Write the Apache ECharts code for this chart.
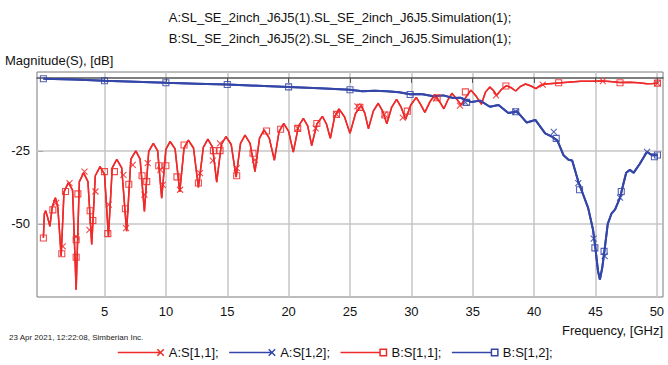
<!DOCTYPE html>
<html>
<head>
<meta charset="utf-8">
<script src="https://cdn.jsdelivr.net/npm/echarts@6/dist/echarts.min.js"></script>
<style>
  html, body { margin: 0; padding: 0; background: #fff; }
  #chart { width: 668px; height: 365px; }
</style>
</head>
<body>
<div id="chart"></div>
<script>
// S[1,1] trace (A and B overlap), frequency in GHz / magnitude in dB
const s11Freq = [0.02, 0.1, 0.2, 0.35, 0.55, 0.75, 1.0, 1.2, 1.47, 1.7, 2.06, 2.4, 2.69, 2.95, 3.3, 3.65,
  3.96, 4.25, 4.64, 5.0, 5.32, 5.63, 6.0, 6.4, 6.8, 7.15, 7.55, 7.9, 8.25, 8.6, 8.98, 9.33,
  9.66, 10.0, 10.34, 10.75, 11.13, 11.48, 11.83, 12.25, 12.65, 13.05, 13.42, 13.8, 14.14, 14.52, 14.9, 15.32,
  15.72, 16.08, 16.45, 16.86, 17.26, 17.63, 18.0, 18.42, 18.84, 19.22, 19.6, 20.0, 20.38, 20.8, 21.2, 21.55,
  21.88, 22.3, 22.75, 23.08, 23.4, 23.75, 24.1, 24.55, 25.0, 25.45, 25.9, 26.2, 26.5, 26.9, 27.3, 27.65,
  28.0, 28.4, 28.8, 29.15, 29.53, 29.95, 30.4, 30.75, 31.1, 31.5, 31.9, 32.28, 32.65, 32.97, 33.3, 33.7,
  34.05, 34.45, 34.85, 35.3, 35.7, 36.05, 36.4, 36.7, 36.95, 37.35, 37.75, 38.15, 38.5, 38.9, 39.3, 39.75,
  40.15, 40.5, 40.9, 41.5, 42.2, 43.0, 43.8, 44.6, 45.6, 46.4, 47.0, 47.8, 48.5, 49.2, 49.7, 50.05];
const s11Db = [-54.7, -46.5, -45.5, -47.5, -50.8, -44, -41, -44.5, -61, -39, -35.8, -38.5, -72.5, -35.5, -32.5, -35.5,
  -57, -33.5, -30.4, -33, -54.3, -30.8, -27.9, -30.8, -52.5, -27.8, -25, -27.8, -45.7, -25.2, -22.4, -25,
  -41.2, -24.5, -21.8, -24.3, -39, -24, -21.3, -24, -37.5, -23.8, -21, -23.7, -35.7, -22.8, -20.1, -22.8,
  -34, -22.4, -19.6, -22.4, -32.1, -20.6, -17.8, -20.6, -28.2, -18.4, -15.6, -18.3, -25.4, -16.6, -13.9, -16.4,
  -23.2, -15.8, -13.2, -15.8, -20.7, -13.3, -10.6, -13.3, -19, -12.2, -9.5, -12, -17.4, -11.4, -8.7, -11.3,
  -15.7, -10, -7.4, -9.9, -14.2, -9.3, -6.7, -9.1, -11.8, -8.3, -5.8, -8, -10.6, -7.6, -5.3, -7.3,
  -9.3, -6.6, -4.2, -6.4, -9, -4.8, -3.1, -4.4, -6, -3.9, -2.7, -3.4, -4.5, -2.9, -2.1, -2.8,
  -3.7, -2.6, -2.1, -1.9, -1.7, -1.4, -1.2, -1.2, -1.1, -1.3, -1.6, -1.5, -1.7, -2.0, -1.9, -1.8];

// S[1,2] trace (A and B overlap)
const s12Freq = [0.02, 2.5, 5, 7.5, 10, 12.5, 15, 17.5, 20, 22.5, 25, 26.0, 27.0, 28.0, 29.0, 29.9,
  30.8, 31.8, 32.6, 33.4, 34.0, 34.9, 35.6, 36.4, 37.1, 37.9, 38.6, 39.4, 40.1, 40.9, 41.4, 41.9,
  42.4, 42.8, 43.1, 43.6, 44.0, 44.4, 44.8, 45.0, 45.2, 45.36, 45.55, 45.75, 46.0, 46.3, 46.6, 47.0,
  47.2, 47.5, 47.8, 48.1, 48.6, 49.2, 49.6, 50.05];
const s12Db = [-0.3, -0.6, -1.0, -1.35, -1.7, -2.0, -2.3, -2.7, -3.1, -3.6, -4.1, -4.6, -4.4, -4.6, -4.9, -5.6,
  -5.5, -6.3, -6.0, -6.9, -6.8, -8.3, -7.8, -9.9, -9.3, -12, -11.5, -15.3, -14.4, -19, -20, -21.5,
  -26.5, -28, -28.3, -35.5, -40, -44.5, -52, -58.5, -66, -69, -65, -58.5, -50, -46.5, -45, -41,
  -37.5, -32.5, -31.5, -32.5, -29.5, -25.3, -26.5, -26.5];

// marker positions as they appear on the plot
const markA11 = [[1.06, -42.8], [1.6, -57.7], [2.15, -36], [2.69, -54.3], [3.37, -32.1], [3.77, -52],
  [4.26, -38.9], [5.35, -43.4], [6.54, -33.2], [6.76, -51.4], [7.3, -29.8], [8.25, -40], [8.52, -29.2],
  [9.55, -31.5], [9.75, -36.6], [11.16, -38.3], [12.78, -32.6], [13.82, -28.3], [14.41, -22.4],
  [15.77, -30.9], [17.26, -28.1], [20.74, -17.3], [22.2, -17.3], [23.9, -12.5], [25.6, -9.8],
  [27.8, -12.5], [29.3, -13.6], [32.0, -7], [33.96, -9.5], [36.9, -6], [40.7, -2.3], [45.6, -1.1], [50.05, -1.8]];
const markB11 = [[0.02, -54.8], [0.79, -45.2], [1.52, -60.2], [1.82, -38.9], [2.69, -55.4], [2.69, -61.4],
  [2.83, -39.7], [3.83, -45.5], [4.05, -48.8], [5.0, -32.1], [5.27, -53.3], [5.81, -32.1], [6.7, -44.8],
  [6.98, -36.4], [8.06, -33.5], [8.44, -35.5], [9.42, -30.1], [10.0, -30.1], [10.9, -33.9], [11.48, -23],
  [12.65, -36], [13.87, -24.9], [14.41, -24.9], [15.77, -33.5], [17.1, -25.8], [18.2, -18.2],
  [19.35, -17.6], [20.74, -17.3], [22.3, -15.6], [23.9, -12.5], [25.8, -10.1], [27.85, -12.7],
  [29.67, -11.4], [32.1, -6.8], [34.4, -4.8], [37.7, -2.8], [42.0, -1.7], [47.0, -1.7], [50.05, -1.8]];
const markA12 = [[34.4, -8.4], [38.5, -11.6], [41.6, -18.5], [43.6, -36], [44.85, -55], [45.75, -61],
  [47.0, -41], [49.2, -25.3]];
const markB12 = [[0.02, -0.3], [5, -1.0], [10, -1.7], [15, -2.3], [20, -3.1], [25, -4.1], [29.9, -5.7],
  [34.5, -8.4], [38.5, -11.6], [41.8, -20.7], [43.7, -38.3], [44.95, -58.2], [45.7, -59.4], [47.1, -38.9],
  [49.8, -27], [50.05, -26.4]];

const xTicks = [5, 10, 15, 20, 25, 30, 35, 40, 45, 50];
const yTicks = [-50, -25];
const names = ["A:S[1,1];", "A:S[1,2];", "B:S[1,1];", "B:S[1,2];"];

const RED = "#ee2a2a";
const BLUE = "#3446a8";
const FONT = "'Liberation Sans', Arial, sans-serif";
const CROSS = "path://M0,0L10,10M10,0L0,10";

const zip = (fs, ds) => fs.map((f, i) => [f, ds[i]]);

function lineSeries(name, color, fs, ds, width) {
  return {
    name: name, type: "line", data: zip(fs, ds), symbol: "none",
    lineStyle: { color: color, width: width }, itemStyle: { color: color },
    animation: false, z: 2
  };
}
function markSeries(name, color, pts, symbol, size) {
  return {
    name: name, type: "scatter", data: pts, symbol: symbol, symbolSize: size,
    itemStyle: { color: "transparent", borderColor: color, borderWidth: 1.1, opacity: 0.85 },
    animation: false, z: 3
  };
}

const chart = echarts.init(document.getElementById("chart"), null, { renderer: "svg" });

chart.setOption({
  backgroundColor: "#fff",
  textStyle: { fontFamily: FONT },
  grid: { left: 37, right: 5, top: 72, bottom: 68, show: true, borderColor: "#7a7a7a", borderWidth: 1, outerBoundsMode: "none" },
  xAxis: {
    type: "value", min: -0.5, max: 50.5,
    axisLine: { show: true, lineStyle: { color: "#555", width: 1.5 } },
    axisTick: { show: true, customValues: xTicks, length: 5, lineStyle: { color: "#555" } },
    axisLabel: { customValues: xTicks, margin: 8, color: "#111", fontSize: 13, fontFamily: FONT },
    splitLine: { show: true, customValues: xTicks, lineStyle: { color: "#c6c6c6", width: 1.5 } }
  },
  yAxis: {
    type: "value", min: -75, max: 2,
    axisLine: { show: false },
    axisTick: { show: true, customValues: yTicks, length: 5, lineStyle: { color: "#aaa" } },
    axisLabel: { customValues: yTicks, margin: 7, color: "#111", fontSize: 13, fontFamily: FONT },
    splitLine: { show: true, customValues: yTicks, lineStyle: { color: "#c6c6c6", width: 1.5 } }
  },
  legend: {
    left: "center", top: 343, itemWidth: 46, itemHeight: 8, itemGap: 8, padding: 2,
    textStyle: { fontSize: 13, color: "#111", fontFamily: FONT, lineHeight: 15 },
    data: [
      { name: names[0], icon: "path://M0,4H40M37,1L43,7M43,1L37,7", itemStyle: { color: "none", borderColor: RED, borderWidth: 1.5 } },
      { name: names[1], icon: "path://M0,4H40M37,1L43,7M43,1L37,7", itemStyle: { color: "none", borderColor: BLUE, borderWidth: 1.5 } },
      { name: names[2], icon: "path://M0,4H37M37,1H43V7H37Z", itemStyle: { color: "none", borderColor: RED, borderWidth: 1.5 } },
      { name: names[3], icon: "path://M0,4H37M37,1H43V7H37Z", itemStyle: { color: "none", borderColor: BLUE, borderWidth: 1.5 } }
    ]
  },
  graphic: [
    { type: "text", x: 340, y: 17, style: { text: "A:SL_SE_2inch_J6J5(1).SL_SE_2inch_J6J5.Simulation(1);", font: "13px " + FONT, fill: "#111", textAlign: "center", textVerticalAlign: "middle" } },
    { type: "text", x: 340, y: 38, style: { text: "B:SL_SE_2inch_J6J5(2).SL_SE_2inch_J6J5.Simulation(1);", font: "13px " + FONT, fill: "#111", textAlign: "center", textVerticalAlign: "middle" } },
    { type: "text", x: 5, y: 60, style: { text: "Magnitude(S), [dB]", font: "13px " + FONT, fill: "#111", textAlign: "left", textVerticalAlign: "middle" } },
    { type: "text", x: 663, y: 330, style: { text: "Frequency, [GHz]", font: "13px " + FONT, fill: "#111", textAlign: "right", textVerticalAlign: "middle" } },
    { type: "text", x: 9, y: 337, style: { text: "23 Apr 2021, 12:22:08, Simberian Inc.", font: "8px " + FONT, fill: "#222", textAlign: "left", textVerticalAlign: "middle" } }
  ],
  series: [
    lineSeries(names[0], RED, s11Freq, s11Db, 1.5),
    lineSeries(names[1], BLUE, s12Freq, s12Db, 2),
    lineSeries(names[2], RED, s11Freq, s11Db, 1.5),
    lineSeries(names[3], BLUE, s12Freq, s12Db, 2),
    markSeries(names[0], RED, markA11, CROSS, 6),
    markSeries(names[1], BLUE, markA12, CROSS, 6),
    markSeries(names[2], RED, markB11, "rect", 6),
    markSeries(names[3], BLUE, markB12, "rect", 6)
  ]
});
</script>
</body>
</html>
